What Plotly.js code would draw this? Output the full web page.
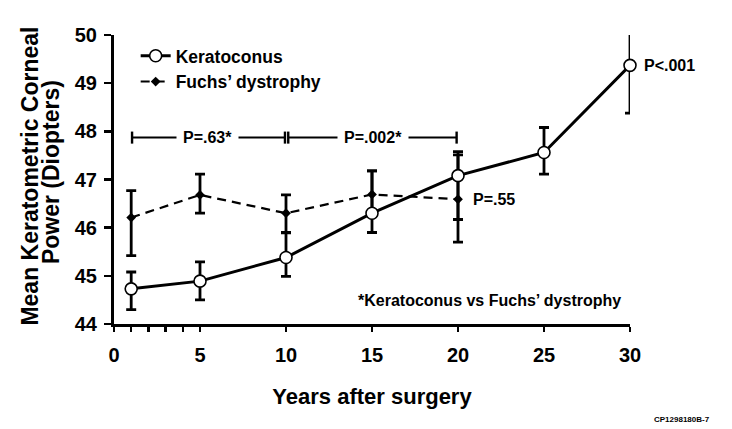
<!DOCTYPE html>
<html>
<head>
<meta charset="utf-8">
<script src="https://cdn.plot.ly/plotly-3.0.1.min.js"></script>
<style>html,body{margin:0;padding:0;background:#fff;}#chart{width:732px;height:429px;}</style>
</head>
<body>
<div id="chart"></div>
<script>
// Data
const years = [1, 5, 10, 15, 20, 25, 30];
const keratoconusMean = [44.73, 44.89, 45.38, 46.30, 47.08, 47.56, 49.37];
const keratoconusUpper = [45.08, 45.29, 45.89, 47.18, 47.58, 48.08, 50.38];
const keratoconusLower = [44.30, 44.50, 44.99, 45.90, 46.17, 47.11, 48.38];

const fuchsYears = [1, 5, 10, 15, 20];
const fuchsMean = [46.21, 46.68, 46.30, 46.69, 46.59];
const fuchsUpper = [46.77, 47.11, 46.68, 47.18, 47.51];
const fuchsLower = [45.42, 46.30, 45.90, 46.30, 45.70];

const tickValsX = [0, 1, 2, 3, 4, 5, 10, 15, 20, 25, 30];
const tickTextX = ['0', '', '', '', '', '5', '10', '15', '20', '25', '30'];
const tickValsY = [44, 45, 46, 47, 48, 49, 50];

// comparison bracket
const bracketLevel = 47.87;
const bracketSegments = [[1.05, 9.94], [10.13, 19.92]];
const bracketLabels = ['P=.63*', 'P=.002*'];
const bracketLabelX = [5.44, 15.03];

const yTitleLines = ['Mean Keratometric Corneal', 'Power (Diopters)'];

const font = 'Liberation Sans, Arial, sans-serif';

const plus = (m, u) => u.map((v, i) => +(v - m[i]).toFixed(3));
const minus = (m, l) => l.map((v, i) => +(m[i] - v).toFixed(3));

const fuchs = {
  x: fuchsYears, y: fuchsMean, type: 'scatter', mode: 'lines+markers',
  name: 'Fuchs\u2019 dystrophy',
  line: {color: '#000', width: 2.2, dash: '9px,6px'},
  marker: {symbol: 'diamond', size: 7.5, color: '#000'},
  error_y: {type: 'data', symmetric: false, array: plus(fuchsMean, fuchsUpper),
    arrayminus: minus(fuchsMean, fuchsLower), color: '#000', thickness: 2.8, width: 5},
  cliponaxis: false
};
const kerato = {
  x: years, y: keratoconusMean, type: 'scatter', mode: 'lines+markers',
  name: 'Keratoconus',
  line: {color: '#000', width: 3},
  marker: {symbol: 'circle', size: 12, color: '#fff', line: {color: '#000', width: 1.6}},
  error_y: {type: 'data', symmetric: false, array: plus(keratoconusMean, keratoconusUpper),
    arrayminus: minus(keratoconusMean, keratoconusLower), color: '#000', thickness: 2.8, width: 5},
  cliponaxis: false
};

const shapes = [];
bracketSegments.forEach(s => {
  shapes.push({type: 'line', xref: 'x', yref: 'y', x0: s[0], x1: s[1], y0: bracketLevel, y1: bracketLevel,
    line: {color: '#000', width: 2}});
  s.forEach(e => shapes.push({type: 'line', xref: 'x', yref: 'y', x0: e, x1: e,
    y0: bracketLevel - 0.125, y1: bracketLevel + 0.125, line: {color: '#000', width: 2.4}}));
});

const bold = (size) => ({family: font, size: size, color: '#000', weight: 'bold'});

const annotations = bracketLabels.map((t, i) => ({
  x: bracketLabelX[i], y: bracketLevel, xref: 'x', yref: 'y', text: t, showarrow: false,
  bgcolor: '#fff', borderpad: 6, font: bold(16)
}));
annotations.push({x: 30, y: 49.37, xref: 'x', yref: 'y', text: 'P<.001', showarrow: false,
  xanchor: 'left', xshift: 12, font: bold(16)});
annotations.push({x: 20, y: 46.59, xref: 'x', yref: 'y', text: 'P=.55', showarrow: false,
  xanchor: 'left', xshift: 13, font: bold(16)});
annotations.push({x: 29.52, y: 44.48, xref: 'x', yref: 'y', text: '*Keratoconus vs Fuchs\u2019 dystrophy',
  showarrow: false, xanchor: 'right', xshift: 1, font: bold(16)});
annotations.push({x: 1.1595, y: -0.329, xref: 'paper', yref: 'paper', text: 'CP1298180B-7', showarrow: false,
  xanchor: 'right', yanchor: 'middle', font: bold(8)});
// y-axis title, two tightly spaced rotated lines
annotations.push({x: 0, y: 0.510, xref: 'paper', yref: 'paper', text: yTitleLines[0], showarrow: false,
  textangle: -90, xanchor: 'center', yanchor: 'middle', xshift: -84, font: bold(23)});
annotations.push({x: 0, y: 0.524, xref: 'paper', yref: 'paper', text: yTitleLines[1], showarrow: false,
  textangle: -90, xanchor: 'center', yanchor: 'middle', xshift: -63.5, font: bold(23)});

const layout = {
  width: 732, height: 429,
  margin: {l: 114, r: 102, t: 35, b: 105},
  paper_bgcolor: '#fff', plot_bgcolor: '#fff',
  showlegend: true,
  legend: {x: 0.042, y: 0.99, xanchor: 'left', yanchor: 'top', bgcolor: 'rgba(0,0,0,0)',
    font: bold(17.5), traceorder: 'reversed', tracegroupgap: 0, itemwidth: 30},
  xaxis: {
    range: [0, 30], tickvals: tickValsX, ticktext: tickTextX, ticks: 'outside', ticklen: 5,
    tickwidth: 2.5, tickcolor: '#000', showline: true, linecolor: '#000', linewidth: 3,
    showgrid: false, zeroline: false, ticklabelstandoff: 6,
    tickfont: bold(20),
    title: {text: 'Years after surgery', standoff: 24, font: bold(22)}
  },
  yaxis: {
    range: [44, 50], tickvals: tickValsY, ticks: 'outside', ticklen: 7,
    tickwidth: 2.5, tickcolor: '#000', showline: true, linecolor: '#000', linewidth: 3,
    showgrid: false, zeroline: false, ticklabelstandoff: 3,
    tickfont: bold(20)
  },
  shapes: shapes,
  annotations: annotations
};

Plotly.newPlot('chart', [fuchs, kerato], layout, {displayModeBar: false, staticPlot: true});
</script>
</body>
</html>
